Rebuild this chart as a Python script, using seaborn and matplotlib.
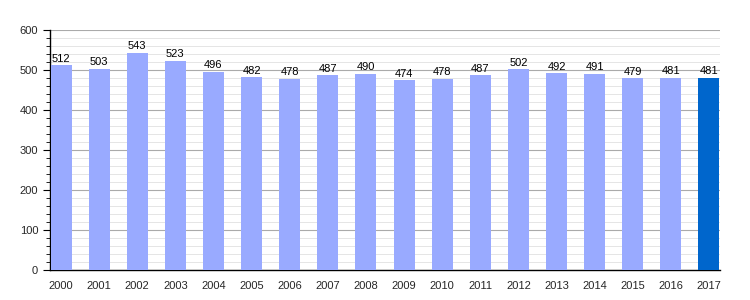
import matplotlib
matplotlib.use("Agg")
import matplotlib.pyplot as plt
import seaborn as sns
import numpy as np
from matplotlib.ticker import MultipleLocator

years = ["2000", "2001", "2002", "2003", "2004", "2005", "2006", "2007", "2008",
         "2009", "2010", "2011", "2012", "2013", "2014", "2015", "2016", "2017"]
values = [512, 503, 543, 523, 496, 482, 478, 487, 490,
          474, 478, 487, 502, 492, 491, 479, 481, 481]

sns.set_theme(style="white")
plt.rcParams['font.family'] = ['Liberation Sans', 'DejaVu Sans']

fig = plt.figure(figsize=(7.5, 3.0), dpi=100)
ax = fig.add_axes([50/750, 30/300, 670/750, 240/300])

colors = ["#99AAFF"] * (len(years) - 1) + ["#0066CC"]
sns.barplot(x=years, y=values, hue=years, palette=colors, legend=False,
            width=0.55, ax=ax, saturation=1, zorder=3, linewidth=0, edgecolor="none")

ax.set_ylim(0, 600)
ax.set_xlim(-0.29, len(years) - 0.71)
ax.yaxis.set_major_locator(MultipleLocator(100))
ax.yaxis.set_minor_locator(MultipleLocator(20))
ax.grid(axis="y", which="major", color="#aaaaaa", linewidth=0.8, zorder=0)
ax.grid(axis="y", which="minor", color="#e0e0e0", linewidth=0.6, zorder=0)
ax.set_axisbelow(True)

for s in ["top", "right"]:
    ax.spines[s].set_visible(False)
ax.spines["left"].set_color("black")
ax.spines["bottom"].set_color("black")
ax.spines["left"].set_linewidth(1)
ax.spines["bottom"].set_linewidth(1)

ax.tick_params(axis="y", which="major", left=True, length=5, width=0.8, labelsize=8, color="black")
ax.tick_params(axis="y", which="minor", left=True, length=3, width=0.6, color="black")
ax.tick_params(axis="x", bottom=False, labelsize=8, pad=2)
ax.set_xlabel("")
ax.set_ylabel("")

for i, v in enumerate(values):
    ax.text(i, v + 4, str(v), ha="center", va="bottom", fontsize=8, color="black", zorder=5)

fig.savefig("out.png", dpi=100)
